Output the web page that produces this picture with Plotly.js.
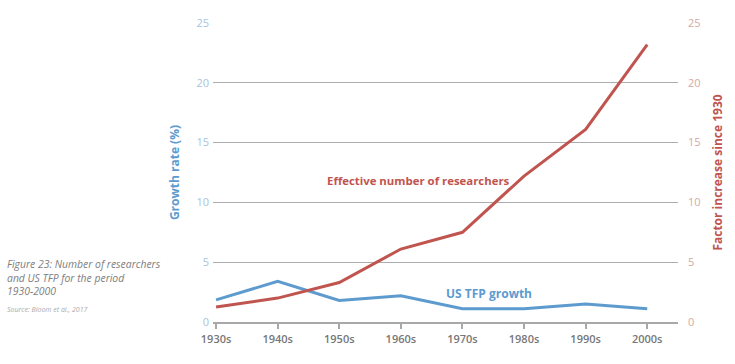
<!DOCTYPE html>
<html><head><meta charset="utf-8">
<script src="https://cdn.plot.ly/plotly-3.0.1.min.js"></script>
<style>html,body{margin:0;padding:0;background:#fff}#chart{width:735px;height:364px}</style>
</head><body><div id="chart"></div>
<script>
var decades = ["1930s","1940s","1950s","1960s","1970s","1980s","1990s","2000s"];
var tfpGrowth = [1.85, 3.4, 1.8, 2.2, 1.1, 1.1, 1.5, 1.1];
var researchers = [1.25, 2.0, 3.3, 6.1, 7.5, 12.2, 16.1, 23.2];
var yTicks = [0, 5, 10, 15, 20, 25];

var W = 735, H = 364, L = 213, R = 678, T = 23, B = 322;
function px(x){ return (x - L) / (R - L); }
function py(y){ return (B - y) / (B - T); }
var blue = "#5d9bcf", red = "#c0544f";
var font = "Open Sans, Noto Sans, sans-serif";

var traces = [
  {x: decades, y: tfpGrowth, type: "scatter", mode: "lines", name: "US TFP growth",
   line: {color: blue, width: 3}, yaxis: "y"},
  {x: decades, y: researchers, type: "scatter", mode: "lines", name: "Effective number of researchers",
   line: {color: red, width: 3}, yaxis: "y2"}
];

var layout = {
  width: W, height: H,
  margin: {l: L, r: W - R, t: T, b: H - B, pad: 0},
  paper_bgcolor: "#fff", plot_bgcolor: "#fff",
  showlegend: false,
  font: {family: font},
  xaxis: {
    type: "category", range: [-0.05, 7.5],
    showgrid: false, zeroline: false,
    showline: true, linecolor: "#a8a8a8", linewidth: 2,
    ticks: "outside", ticklen: 5, tickwidth: 2, tickcolor: "#a8a8a8",
    tickfont: {size: 11, color: "#777", family: font, weight: 600},
    ticklabelstandoff: 1
  },
  yaxis: {
    range: [0, 25], tickvals: yTicks, showgrid: true, gridcolor: "#adadad", gridwidth: 1,
    zeroline: false, showline: false, ticks: "",
    tickfont: {size: 11, color: "#a9c3dc", family: font},
    ticklabelstandoff: 3,
    title: {text: "Growth rate (%)", font: {size: 12, color: blue, family: font, weight: 700}, standoff: 14}
  },
  yaxis2: {
    range: [0, 25], tickvals: yTicks, overlaying: "y", side: "right",
    showgrid: false, zeroline: false, showline: false, ticks: "",
    tickfont: {size: 11, color: "#d6a8a6", family: font},
    ticklabelstandoff: 9,
    title: {text: "Factor increase since 1930", font: {size: 12, color: red, family: font, weight: 700}, standoff: 14}
  },
  annotations: [
    {text: "Effective number of researchers", xref: "paper", yref: "paper", x: px(418), y: py(180),
     showarrow: false, font: {size: 11.4, color: red, family: font, weight: 700}, xanchor: "center", yanchor: "middle"},
    {text: "US TFP growth", xref: "paper", yref: "paper", x: px(489), y: py(293),
     showarrow: false, font: {size: 12, color: blue, family: font, weight: 700}, xanchor: "center", yanchor: "middle"},
    {text: "<i>Figure 23: Number of researchers<br>and US TFP for the period<br>1930-2000</i>", xref: "paper", yref: "paper",
     x: px(5), y: py(255), align: "left", showarrow: false, xanchor: "left", yanchor: "top",
     font: {size: 10.4, color: "#7d7d7d", family: font}},
    {text: "<i>Source: Bloom et al., 2017</i>", xref: "paper", yref: "paper",
     x: px(5), y: py(309), showarrow: false, xanchor: "left", yanchor: "middle",
     font: {size: 7, color: "#aaa", family: font}}
  ]
};

Plotly.newPlot("chart", traces, layout, {displayModeBar: false, staticPlot: true});
</script>
</body></html>
